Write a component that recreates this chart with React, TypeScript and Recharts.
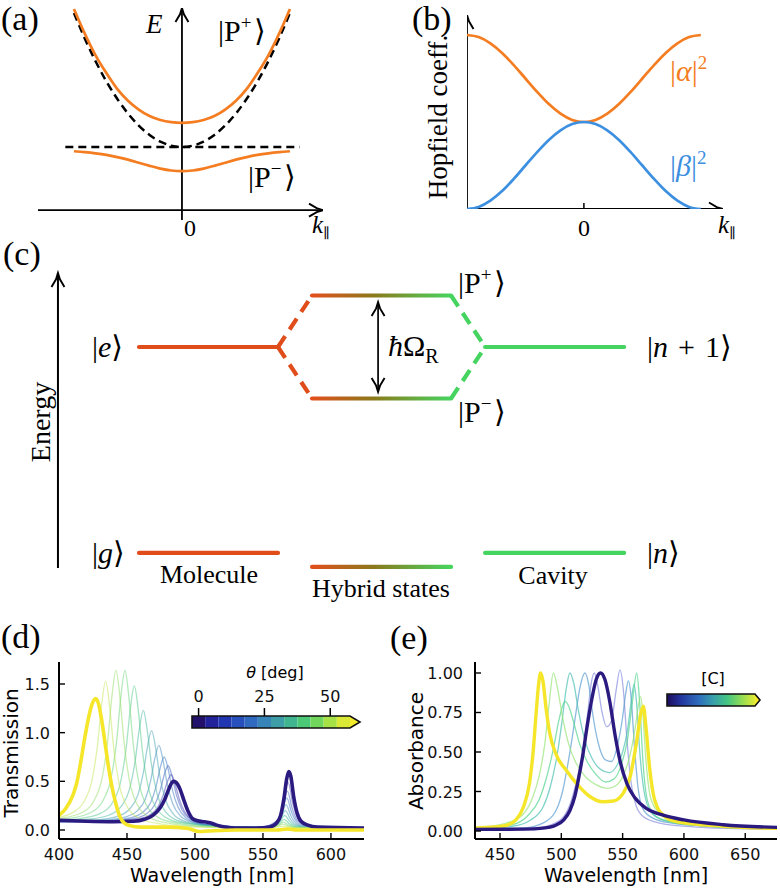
import React from "react";
import {
  LineChart,
  ComposedChart,
  Line,
  XAxis,
  YAxis,
  ReferenceArea,
} from "recharts";

const SERIF = '"Liberation Serif", "DejaVu Serif", serif';
const SANS = '"DejaVu Sans", sans-serif';
const ORANGE = "#f47d22";
const BLUE = "#3d8fe0";
const MOL = "#e04d1b";
const CAV = "#45d45f";
const TINY = 0.001;

// ---------- (a) dispersion ----------
const kPoints = [-1, -0.9, -0.8, -0.7, -0.6, -0.5, -0.4, -0.3, -0.2, -0.1, 0, 0.1, 0.2, 0.3, 0.4, 0.5, 0.6, 0.7, 0.8, 0.9, 1];
const upperBranch = [2.04, 1.79, 1.57, 1.39, 1.23, 1.11, 1.02, 0.954, 0.914, 0.892, 0.885, 0.892, 0.914, 0.954, 1.02, 1.11, 1.23, 1.39, 1.57, 1.79, 2.04];
const lowerBranch = [0.597, 0.588, 0.576, 0.56, 0.538, 0.512, 0.481, 0.449, 0.421, 0.402, 0.395, 0.402, 0.421, 0.449, 0.481, 0.512, 0.538, 0.56, 0.576, 0.588, 0.597];
const cavityBranch = [2.0, 1.742, 1.51, 1.306, 1.13, 0.98, 0.858, 0.762, 0.694, 0.654, 0.64, 0.654, 0.694, 0.762, 0.858, 0.98, 1.13, 1.306, 1.51, 1.742, 2.0];
const excitonEnergy = 0.64;
const excitonSpan = [-1.08, 1.09];
const aXDomain = [-1.333, 1.306];
const aYDomain = [-0.1, 2.05];
const A_MARGIN = { top: 8, right: 67, left: 38, bottom: 0 };
const A_W = 390;
const A_H = 250;
const A_XH = 30;

// ---------- (b) Hopfield coefficients ----------
const alphaSq = [1.0, 0.988, 0.952, 0.897, 0.827, 0.75, 0.673, 0.603, 0.548, 0.512, 0.5, 0.512, 0.548, 0.603, 0.673, 0.75, 0.827, 0.897, 0.952, 0.988, 1.0];
const betaSq = [0, 0.012, 0.048, 0.103, 0.173, 0.25, 0.327, 0.397, 0.452, 0.488, 0.5, 0.488, 0.452, 0.397, 0.327, 0.25, 0.173, 0.103, 0.048, 0.012, 0];
const bXDomain = [-1, 1.19];
const bYDomain = [0, 1.115];
const B_MARGIN = { top: 15, right: 57, left: 77, bottom: 0 };
const B_XH = 41;

// ---------- (c) level diagram ----------
const C_W = 780;
const C_H = 400;
const C_XMAX = 780 / 139;
const C_YDOM = [-0.374, 1.568];
const moleculeCol = [1, 2];
const hybridCol = [2.245, 3.245];
const cavityCol = [3.49, 4.49];
const E_g = 0;
const E_e = 1;
const E_up = 1.25;
const E_lp = 0.75;
const E_hg = -0.068;
const energyAxis = { x: 0.417, from: -0.073, to: 1.359 };
const rabiArrow = { x: 2.72, from: 0.782, to: 1.218 };
const hybridPx = hybridCol.map((u) => (u * C_W) / C_XMAX);

const diagramLines = [
  { id: "mol-e", pts: [[moleculeCol[0], E_e], [moleculeCol[1], E_e]], stroke: MOL, dashed: false },
  { id: "mol-g", pts: [[moleculeCol[0], E_g], [moleculeCol[1], E_g]], stroke: MOL, dashed: false },
  { id: "hyb-up", pts: [[hybridCol[0], E_up], [hybridCol[1], E_up]], stroke: "url(#hybridGrad)", dashed: false },
  { id: "hyb-lp", pts: [[hybridCol[0], E_lp], [hybridCol[1], E_lp]], stroke: "url(#hybridGrad)", dashed: false },
  { id: "hyb-g", pts: [[hybridCol[0], E_hg], [hybridCol[1], E_hg]], stroke: "url(#hybridGrad)", dashed: false },
  { id: "cav-n1", pts: [[cavityCol[0], E_e], [cavityCol[1], E_e]], stroke: CAV, dashed: false },
  { id: "cav-n", pts: [[cavityCol[0], E_g], [cavityCol[1], E_g]], stroke: CAV, dashed: false },
  { id: "l-up", pts: [[moleculeCol[1], E_e], [hybridCol[0], E_up]], stroke: MOL, dashed: true },
  { id: "l-lp", pts: [[moleculeCol[1], E_e], [hybridCol[0], E_lp]], stroke: MOL, dashed: true },
  { id: "r-up", pts: [[hybridCol[1], E_up], [cavityCol[0], E_e]], stroke: CAV, dashed: true },
  { id: "r-lp", pts: [[hybridCol[1], E_lp], [cavityCol[0], E_e]], stroke: CAV, dashed: true },
];

// ---------- (d) angle-resolved transmission ----------
const t00 = [[400, 0.1], [420, 0.09], [440, 0.085], [455, 0.09], [463, 0.11], [469, 0.15], [474, 0.22], [478, 0.32], [481, 0.43], [484, 0.5], [486, 0.49], [489, 0.42], [492, 0.3], [495, 0.19], [498, 0.12], [502, 0.095], [507, 0.085], [511, 0.075], [516, 0.05], [522, 0.03], [530, 0.02], [545, 0.02], [555, 0.03], [560, 0.07], [563, 0.15], [565.5, 0.33], [567.5, 0.53], [569, 0.6], [570.5, 0.55], [572.5, 0.35], [575, 0.18], [578, 0.09], [583, 0.05], [590, 0.03], [625, 0.02]];
const t05 = [[400, 0.083], [442.5, 0.094], [457.5, 0.113], [466.5, 0.154], [472.5, 0.229], [476.5, 0.351], [479.5, 0.488], [482.5, 0.57], [485.5, 0.468], [488.5, 0.316], [492.5, 0.184], [498.5, 0.099], [507.5, 0.058], [522.5, 0.039], [545, 0.025], [553, 0.04], [560.5, 0.103], [565, 0.268], [568.5, 0.49], [572, 0.268], [576, 0.112], [582, 0.053], [595, 0.028], [625, 0.02]];
const t10 = [[400, 0.084], [440.3, 0.096], [455.3, 0.118], [464.3, 0.167], [470.3, 0.256], [474.3, 0.399], [477.3, 0.563], [480.3, 0.66], [483.3, 0.543], [486.3, 0.364], [490.3, 0.211], [496.3, 0.112], [505.3, 0.063], [520.3, 0.041], [545, 0.025], [553, 0.038], [560, 0.087], [564.5, 0.22], [568, 0.4], [571.5, 0.22], [575.5, 0.094], [581.5, 0.047], [595, 0.026], [625, 0.02]];
const t15 = [[400, 0.085], [437.4, 0.098], [452.4, 0.124], [461.4, 0.179], [467.4, 0.283], [471.4, 0.448], [474.4, 0.637], [477.4, 0.75], [480.4, 0.617], [483.4, 0.413], [487.4, 0.238], [493.4, 0.124], [502.4, 0.069], [517.4, 0.043], [545, 0.025], [552.5, 0.035], [559.5, 0.075], [564, 0.184], [567.5, 0.33], [571, 0.184], [575, 0.081], [581, 0.042], [595, 0.025], [625, 0.02]];
const t20 = [[400, 0.086], [433.5, 0.101], [448.5, 0.132], [457.5, 0.196], [463.5, 0.319], [467.5, 0.513], [470.5, 0.736], [473.5, 0.87], [476.5, 0.716], [479.5, 0.478], [483.5, 0.274], [489.5, 0.141], [498.5, 0.077], [513.5, 0.046], [540, 0.026], [552, 0.032], [559, 0.062], [563.5, 0.147], [567, 0.26], [570.5, 0.147], [574.5, 0.067], [580.5, 0.037], [595, 0.024], [625, 0.02]];
const t25 = [[400, 0.089], [428.1, 0.105], [443.1, 0.141], [452.1, 0.218], [458.1, 0.363], [462.1, 0.594], [465.1, 0.859], [468.1, 1.02], [471.1, 0.839], [474.1, 0.559], [478.1, 0.318], [484.1, 0.163], [493.1, 0.086], [508.1, 0.05], [530, 0.03], [551.5, 0.03], [558.5, 0.052], [563, 0.115], [566.5, 0.2], [570, 0.115], [574, 0.055], [580, 0.033], [595, 0.023], [625, 0.02]];
const t30 = [[400, 0.093], [422, 0.111], [437, 0.154], [446, 0.248], [452, 0.425], [456, 0.707], [459, 1.032], [462, 1.23], [465, 1.012], [468, 0.672], [472, 0.38], [478, 0.193], [487, 0.099], [502, 0.056], [530, 0.03], [551, 0.028], [558, 0.043], [562.5, 0.089], [566, 0.15], [569.5, 0.089], [573.5, 0.045], [579.5, 0.029], [625, 0.02]];
const t35 = [[400, 0.1], [415.4, 0.117], [430.4, 0.17], [439.4, 0.283], [445.4, 0.5], [449.4, 0.842], [452.4, 1.238], [455.4, 1.48], [458.4, 1.218], [461.4, 0.807], [465.4, 0.455], [471.4, 0.228], [480.4, 0.115], [495.4, 0.062], [520, 0.035], [550, 0.026], [557.5, 0.036], [562, 0.068], [565.5, 0.11], [569, 0.068], [573, 0.038], [579, 0.026], [625, 0.02]];
const t40 = [[400, 0.108], [408.5, 0.121], [423.5, 0.18], [432.5, 0.306], [438.5, 0.547], [442.5, 0.929], [445.5, 1.37], [448.5, 1.64], [451.5, 1.35], [454.5, 0.894], [458.5, 0.502], [464.5, 0.251], [473.5, 0.125], [488.5, 0.066], [510, 0.035], [550, 0.025], [557, 0.031], [561.5, 0.052], [565, 0.08], [568.5, 0.052], [572.5, 0.032], [578.5, 0.024], [625, 0.02]];
const t45 = [[400, 0.117], [416.9, 0.18], [425.9, 0.306], [431.9, 0.547], [435.9, 0.929], [438.9, 1.37], [441.9, 1.64], [444.9, 1.35], [447.9, 0.894], [451.9, 0.502], [457.9, 0.251], [466.9, 0.125], [481.9, 0.066], [505, 0.035], [550, 0.024], [556.5, 0.027], [561, 0.041], [564.5, 0.06], [568, 0.041], [572, 0.028], [578, 0.023], [625, 0.02]];
const t50 = [[400, 0.131], [409.3, 0.173], [418.3, 0.29], [424.3, 0.515], [428.3, 0.869], [431.3, 1.28], [434.3, 1.53], [437.3, 1.26], [440.3, 0.834], [444.3, 0.47], [450.3, 0.235], [459.3, 0.118], [474.3, 0.063], [500, 0.03], [550, 0.022], [560.5, 0.031], [564, 0.04], [567.5, 0.031], [571.5, 0.024], [625, 0.02]];
const t55 = [[400, 0.15], [405, 0.22], [410, 0.35], [413, 0.48], [416, 0.7], [419, 0.95], [422, 1.17], [424.5, 1.3], [427, 1.35], [429, 1.3], [431.5, 1.12], [434, 0.88], [436.5, 0.64], [439, 0.44], [442, 0.26], [445, 0.13], [448, 0.07], [452, 0.045], [460, 0.03], [480, 0.03], [495, 0.015], [503, -0.015], [510, -0.01], [530, 0], [560, 0], [568, 0.01], [575, 0], [625, 0]];
const thinAngles = [t05, t10, t15, t20, t25, t30, t35, t40, t45, t50];
const thinAngleColors = ["#4a46b4", "#3d5cc0", "#3a74c2", "#3f8cbe", "#43a3b2", "#48b8a0", "#52c98a", "#6cd576", "#95de66", "#c4e658"];
const angleBinEdges = [-2.5, 2.5, 7.5, 12.5, 17.5, 22.5, 27.5, 32.5, 37.5, 42.5, 47.5, 52.5, 57.5];
const angleBinColors = ["#22106a", "#22229a", "#2137b2", "#2850bd", "#2f69c0", "#3784b8", "#3d9ea7", "#40b590", "#4bc977", "#70d65c", "#a6e146", "#d9e936"];
const angleExtendEdge = 61.3;
const angleTicks = [0, 25, 50];
const dXDomain = [400, 624.3];
const dYDomain = [-0.0925, 1.726];
const dXTicks = [400, 450, 500, 550, 600];
const dYTicks = [0, 0.5, 1, 1.5];

// ---------- (e) concentration-dependent absorbance ----------
const a0 = [[430, 0.01], [470, 0.012], [485, 0.018], [495, 0.035], [502, 0.07], [507, 0.13], [511, 0.22], [514, 0.33], [517.5, 0.48], [521, 0.66], [525, 0.84], [528.5, 0.96], [532, 1.0], [535.5, 0.96], [539.5, 0.82], [544, 0.6], [548, 0.44], [553.5, 0.3], [560, 0.21], [570, 0.14], [583, 0.1], [600, 0.07], [632, 0.04], [676, 0.023]];
const a1 = [[430, 0.01], [480, 0.02], [495, 0.05], [505, 0.13], [512, 0.3], [518, 0.52], [522, 0.78], [524.5, 0.94], [526.9, 1.0], [529.5, 0.93], [533, 0.76], [537, 0.66], [541, 0.7], [544.5, 0.88], [547.9, 1.02], [550.5, 0.9], [553.5, 0.58], [557, 0.3], [561, 0.16], [567, 0.09], [580, 0.05], [610, 0.025], [676, 0.01]];
const a2 = [[430, 0.01], [470, 0.02], [485, 0.05], [495, 0.12], [501, 0.25], [507, 0.5], [511, 0.7], [515, 0.9], [519.3, 1.0], [522.5, 0.92], [526, 0.72], [530, 0.56], [536, 0.45], [541, 0.44], [546, 0.55], [550, 0.72], [552.5, 0.87], [554.7, 0.95], [557, 0.84], [559.5, 0.55], [562.5, 0.28], [566.5, 0.14], [575, 0.08], [590, 0.05], [620, 0.03], [676, 0.015]];
const a3 = [[430, 0.015], [460, 0.03], [475, 0.07], [485, 0.15], [491, 0.28], [497, 0.5], [501, 0.72], [504, 0.9], [507, 1.0], [510, 0.94], [514, 0.76], [519, 0.58], [525, 0.46], [532, 0.39], [539, 0.37], [545, 0.41], [550, 0.5], [554, 0.64], [557, 0.82], [559.3, 0.93], [561.5, 0.8], [564, 0.5], [567.5, 0.25], [573, 0.12], [583, 0.07], [620, 0.03], [676, 0.015]];
const a4 = [[430, 0.015], [460, 0.04], [473, 0.1], [482, 0.2], [488, 0.34], [493.5, 0.52], [498, 0.7], [501, 0.79], [503, 0.82], [506, 0.79], [510, 0.69], [515, 0.55], [521, 0.44], [528, 0.36], [536, 0.31], [543, 0.33], [549, 0.42], [554, 0.58], [558, 0.82], [561.5, 1.0], [564, 0.8], [566.5, 0.45], [570, 0.2], [576, 0.1], [590, 0.055], [620, 0.03], [676, 0.015]];
const a5 = [[430, 0.02], [455, 0.05], [468, 0.1], [476, 0.2], [482, 0.35], [486.5, 0.55], [490, 0.8], [493.5, 1.0], [497, 0.9], [501, 0.72], [506, 0.55], [512, 0.43], [520, 0.34], [529, 0.29], [538, 0.27], [545, 0.29], [551, 0.36], [556, 0.48], [560, 0.64], [563, 0.8], [564.7, 0.85], [566.5, 0.74], [569, 0.45], [572.5, 0.22], [578, 0.13], [590, 0.08], [620, 0.04], [676, 0.02]];
const a6 = [[430, 0.02], [445, 0.025], [455, 0.035], [463, 0.07], [469, 0.15], [474, 0.3], [477, 0.5], [479.5, 0.75], [481.5, 0.93], [483.1, 1.0], [485, 0.95], [487.5, 0.78], [490.5, 0.62], [496, 0.48], [504, 0.385], [512.5, 0.3], [523, 0.22], [534, 0.185], [542.5, 0.19], [550.5, 0.24], [556, 0.34], [561.5, 0.57], [565, 0.75], [566.9, 0.79], [569, 0.66], [572, 0.4], [576, 0.2], [583, 0.1], [594, 0.06], [632, 0.03], [676, 0.017]];
const thinConc = [a1, a2, a3, a4, a5];
const thinConcColors = ["#8a8ee0", "#5a9cd0", "#4cc0b4", "#52d48e", "#98e479"];
const eXDomain = [429.6, 675.9];
const eYDomain = [-0.0506, 1.0696];
const eXTicks = [450, 500, 550, 600, 650];
const eYTicks = [0, 0.25, 0.5, 0.75, 1];
const concBarExtent = [0, 1.057];
const concBarEnd = 1;

const toXY = (pts: number[][]) => pts.map(([x, y]) => ({ x, y }));

// pixels per data unit of a chart's plot area
const pxScale = (w: number, h: number, m: any, xAxisH: number, xd: number[], yd: number[]) => ({
  sx: (w - m.left - m.right) / (xd[1] - xd[0]),
  sy: (h - m.top - m.bottom - xAxisH) / (yd[1] - yd[0]),
});

// arrow head as a 3-point polyline in data units (14 px long, 6.5 px half width)
const arrowHead = (key: string, tx: number, ty: number, dir: string, s: { sx: number; sy: number }) => {
  const L = 14;
  const W = 6.5;
  let pts: number[][];
  if (dir === "right") pts = [[tx - L / s.sx, ty + W / s.sy], [tx - (L * 0.45) / s.sx, ty + (W * 0.3) / s.sy], [tx, ty], [tx - (L * 0.45) / s.sx, ty - (W * 0.3) / s.sy], [tx - L / s.sx, ty - W / s.sy]];
  else if (dir === "up") pts = [[tx - W / s.sx, ty - L / s.sy], [tx - (W * 0.3) / s.sx, ty - (L * 0.45) / s.sy], [tx, ty], [tx + (W * 0.3) / s.sx, ty - (L * 0.45) / s.sy], [tx + W / s.sx, ty - L / s.sy]];
  else pts = [[tx - W / s.sx, ty + L / s.sy], [tx - (W * 0.3) / s.sx, ty + (L * 0.45) / s.sy], [tx, ty], [tx + (W * 0.3) / s.sx, ty + (L * 0.45) / s.sy], [tx + W / s.sx, ty + L / s.sy]];
  return pts.map(([x, y]) => ({ [key]: x, y }));
};

// ---------- tick renderers ----------
const ZeroTickA = (props: any) => (
  <text x={props.x + 8} y={props.y + 16} textAnchor="middle" fontFamily={SERIF} fontSize={24} fill="#000">
    {props.payload.value}
  </text>
);

const ZeroTickB = (props: any) => (
  <g>
    <line x1={props.x} x2={props.x} y1={props.y} y2={props.y - 6} stroke="#000" strokeWidth={1.5} />
    <text x={props.x} y={props.y + 27} textAnchor="middle" fontFamily={SERIF} fontSize={24} fill="#000">
      {props.payload.value}
    </text>
  </g>
);

const bottomTick = (props: any) => {
  const { x, y, payload } = props;
  return (
    <g>
      <line x1={x} x2={x} y1={y} y2={y - 6} stroke="#000" strokeWidth={1.4} />
      <text x={x} y={y + 21} textAnchor="middle" fontFamily={SANS} fontSize={16} fill="#111">
        {payload.value}
      </text>
    </g>
  );
};

const makeLeftTick = (digits: number, gap: number) => (props: any) => {
  const { x, y, payload } = props;
  return (
    <g>
      <line x1={x} x2={x + 6} y1={y} y2={y} stroke="#000" strokeWidth={1.4} />
      <text x={x - gap} y={y + 6} textAnchor="end" fontFamily={SANS} fontSize={16} fill="#111">
        {Number(payload.value).toFixed(digits)}
      </text>
    </g>
  );
};

const angleBarOutline = (p: any) => {
  const { x, y, width, height } = p;
  const span = angleExtendEdge - angleBinEdges[0];
  const xe = x + (width * (angleBinEdges[angleBinEdges.length - 1] - angleBinEdges[0])) / span;
  return (
    <g>
      <polygon points={`${xe},${y} ${x + width},${y + height / 2} ${xe},${y + height}`} fill="#f3ec2c" />
      <polygon
        points={`${x},${y} ${xe},${y} ${x + width},${y + height / 2} ${xe},${y + height} ${x},${y + height}`}
        fill="none"
        stroke="#111"
        strokeWidth={1.6}
      />
    </g>
  );
};

const concBarShape = (p: any) => {
  const { x, y, width, height } = p;
  const xe = x + (width * (concBarEnd - concBarExtent[0])) / (concBarExtent[1] - concBarExtent[0]);
  return (
    <polygon
      points={`${x},${y} ${xe},${y} ${x + width},${y + height / 2} ${xe},${y + height} ${x},${y + height}`}
      fill="url(#concGrad)"
      stroke="#111"
      strokeWidth={1.6}
    />
  );
};

const Ket = ({ x, y, children, size = 30, fill = "#000" }: any) => (
  <text x={x} y={y} fontFamily={SERIF} fontSize={size} fill={fill}>
    {children}
  </text>
);

const Sup = ({ children }: any) => (
  <>
    <tspan dy={-12} fontSize={19}>{children}</tspan>
    <tspan dy={12}>{"\u200a"}</tspan>
  </>
);

const pos = (left: number, top: number): React.CSSProperties => ({ position: "absolute", left, top });

const lineBase = { dot: false, activeDot: false, isAnimationActive: false } as const;

export default function App() {
  const dispersion = kPoints.map((k, i) => ({ k, up: upperBranch[i], lp: lowerBranch[i], cav: cavityBranch[i] }));
  const hopfield = kPoints.map((k, i) => ({ k, a: alphaSq[i], b: betaSq[i] }));
  const excitonLine = excitonSpan.map((k) => ({ k, y: excitonEnergy }));

  const sA = pxScale(A_W, A_H, A_MARGIN, A_XH, aXDomain, aYDomain);
  const sB = pxScale(390, 250, B_MARGIN, B_XH, bXDomain, bYDomain);
  const sC = pxScale(C_W, C_H, { top: 0, right: 0, left: 0, bottom: 0 }, 0, [0, C_XMAX], C_YDOM);

  const aAxisX = [{ k: aXDomain[0], y: 0 }, { k: aXDomain[1], y: 0 }];
  const aAxisY = [{ k: 0, y: aYDomain[0] }, { k: 0, y: aYDomain[1] }];
  const bAxisX = [{ k: bXDomain[0], y: 0 }, { k: bXDomain[1], y: 0 }];
  const bAxisY = [{ k: bXDomain[0], y: 0 }, { k: bXDomain[0], y: bYDomain[1] }];
  const energyPts = [{ x: energyAxis.x, y: energyAxis.from }, { x: energyAxis.x, y: energyAxis.to }];
  const rabiPts = [{ x: rabiArrow.x, y: rabiArrow.from }, { x: rabiArrow.x, y: rabiArrow.to }];

  const heads = {
    aX: arrowHead("k", aXDomain[1], 0, "right", sA),
    aY: arrowHead("k", 0, aYDomain[1], "up", sA),
    bX: arrowHead("k", bXDomain[1], 0, "right", sB),
    bY: arrowHead("k", bXDomain[0], bYDomain[1], "up", sB),
    cE: arrowHead("x", energyAxis.x, energyAxis.to, "up", sC),
    cRu: arrowHead("x", rabiArrow.x, rabiArrow.to, "up", sC),
    cRd: arrowHead("x", rabiArrow.x, rabiArrow.from, "down", sC),
  };

  const head = (data: any[]) => (
    <Line data={data} dataKey="y" type="linear" stroke="#000" strokeWidth={1.9} strokeLinejoin="miter" dot={false} activeDot={false} isAnimationActive={false} />
  );

  return (
    <div style={{ position: "absolute", left: 0, top: 0, width: 780, height: 889, background: "#fff", overflow: "hidden" }}>
      <svg width={0} height={0} style={{ position: "absolute" }}>
        <defs>
          <linearGradient id="hybridGrad" gradientUnits="userSpaceOnUse" x1={hybridPx[0]} x2={hybridPx[1]} y1={0} y2={0}>
            <stop offset="0" stopColor="#e24f1c" />
            <stop offset="0.45" stopColor="#8a7a1c" />
            <stop offset="1" stopColor="#46d45f" />
          </linearGradient>
          <linearGradient id="concGrad" x1="0" x2="1" y1="0" y2="0">
            <stop offset="0" stopColor="#1b0c5c" />
            <stop offset="0.15" stopColor="#23359f" />
            <stop offset="0.35" stopColor="#2f70bd" />
            <stop offset="0.5" stopColor="#38a0aa" />
            <stop offset="0.65" stopColor="#45c583" />
            <stop offset="0.8" stopColor="#8fdc55" />
            <stop offset="0.946" stopColor="#e2ea35" />
            <stop offset="0.946" stopColor="#f3ec2a" />
            <stop offset="1" stopColor="#f3ec2a" />
          </linearGradient>
        </defs>
      </svg>

      {/* (a) */}
      <div style={pos(0, 0)}>
        <LineChart width={A_W} height={A_H} data={dispersion} margin={A_MARGIN}>
          <XAxis dataKey="k" type="number" domain={aXDomain} allowDataOverflow ticks={[0]} tick={ZeroTickA} axisLine={false} tickLine={false} tickSize={TINY} tickMargin={TINY} height={A_XH} />
          <YAxis type="number" domain={aYDomain} allowDataOverflow hide />
          <Line data={aAxisX} dataKey="y" type="linear" stroke="#000" strokeWidth={1.8} {...lineBase} />
          <Line data={aAxisY} dataKey="y" type="linear" stroke="#000" strokeWidth={1.8} {...lineBase} />
          {head(heads.aX)}
          {head(heads.aY)}
          <Line data={excitonLine} dataKey="y" type="linear" stroke="#000" strokeWidth={2.5} strokeDasharray="8 5" {...lineBase} />
          <Line dataKey="cav" type="monotone" stroke="#000" strokeWidth={2.5} strokeDasharray="8 5" {...lineBase} />
          <Line dataKey="up" type="monotone" stroke={ORANGE} strokeWidth={2.7} {...lineBase} />
          <Line dataKey="lp" type="monotone" stroke={ORANGE} strokeWidth={2.7} {...lineBase} />
        </LineChart>
      </div>

      {/* (b) */}
      <div style={pos(390, 0)}>
        <LineChart width={390} height={250} data={hopfield} margin={B_MARGIN}>
          <XAxis dataKey="k" type="number" domain={bXDomain} allowDataOverflow ticks={[0]} tick={ZeroTickB} axisLine={false} tickLine={false} tickSize={TINY} tickMargin={TINY} height={B_XH} />
          <YAxis type="number" domain={bYDomain} allowDataOverflow hide />
          <Line data={bAxisX} dataKey="y" type="linear" stroke="#000" strokeWidth={1.8} {...lineBase} />
          <Line data={bAxisY} dataKey="y" type="linear" stroke="#000" strokeWidth={1.8} {...lineBase} />
          {head(heads.bX)}
          {head(heads.bY)}
          <Line dataKey="a" type="monotone" stroke={ORANGE} strokeWidth={2.7} {...lineBase} />
          <Line dataKey="b" type="monotone" stroke={BLUE} strokeWidth={2.7} {...lineBase} />
        </LineChart>
      </div>

      {/* (c) */}
      <div style={pos(0, 230)}>
        <ComposedChart width={C_W} height={C_H} margin={{ top: 0, right: 0, left: 0, bottom: 0 }}>
          <XAxis dataKey="x" type="number" domain={[0, C_XMAX]} allowDataOverflow hide />
          <YAxis type="number" domain={C_YDOM} allowDataOverflow hide />
          {diagramLines.map((l) => (
            <Line
              key={l.id}
              data={toXY(l.pts)}
              dataKey="y"
              type="linear"
              stroke={l.stroke}
              strokeWidth={4.2}
              strokeDasharray={l.dashed ? "13 8" : undefined}
              strokeLinecap={l.dashed ? "butt" : "round"}
              {...lineBase}
            />
          ))}
          <Line data={energyPts} dataKey="y" type="linear" stroke="#000" strokeWidth={2} {...lineBase} />
          {head(heads.cE)}
          <Line data={rabiPts} dataKey="y" type="linear" stroke="#000" strokeWidth={1.7} {...lineBase} />
          {head(heads.cRu)}
          {head(heads.cRd)}
        </ComposedChart>
      </div>

      {/* (d) */}
      <div style={pos(0, 630)}>
        <LineChart width={390} height={259} margin={{ top: 32, right: 26, left: 0, bottom: 0 }}>
          <XAxis dataKey="x" type="number" domain={dXDomain} allowDataOverflow ticks={dXTicks} tick={bottomTick} tickLine={false} tickSize={TINY} tickMargin={TINY} height={50} axisLine={{ stroke: "#000", strokeWidth: 2 }} />
          <YAxis type="number" domain={dYDomain} allowDataOverflow ticks={dYTicks} tick={makeLeftTick(1, 9)} tickLine={false} tickSize={TINY} tickMargin={TINY} width={59} axisLine={{ stroke: "#000", strokeWidth: 2 }} />
          {thinAngles.map((s, i) => (
            <Line key={`t${i}`} data={toXY(s)} dataKey="y" type="monotone" stroke={thinAngleColors[i]} strokeOpacity={0.5} strokeWidth={1.3} {...lineBase} />
          ))}
          <Line data={toXY(t00)} dataKey="y" type="monotone" stroke="#2b1a80" strokeWidth={3.6} {...lineBase} />
          <Line data={toXY(t55)} dataKey="y" type="monotone" stroke="#f5e62a" strokeWidth={3.6} {...lineBase} />
        </LineChart>
      </div>
      <div style={pos(0, 630)}>
        <ComposedChart width={390} height={110} data={angleTicks.map((x) => ({ x }))} margin={{ top: 66, right: 30, left: 192, bottom: 12 }}>
          <XAxis dataKey="x" orientation="top" type="number" domain={[angleBinEdges[0], angleExtendEdge]} allowDataOverflow ticks={angleTicks} height={20} tickSize={8} tickMargin={6} axisLine={false} tickLine={{ stroke: "#000", strokeWidth: 1.5 }} tick={{ fontFamily: SANS, fontSize: 16, fill: "#111" }} />
          <YAxis type="number" domain={[0, 1]} allowDataOverflow hide />
          {angleBinColors.map((c, i) => (
            <ReferenceArea key={`bin${i}`} x1={angleBinEdges[i]} x2={angleBinEdges[i + 1]} y1={0} y2={1} fill={c} fillOpacity={1} stroke="none" ifOverflow="visible" />
          ))}
          <ReferenceArea x1={angleBinEdges[0]} x2={angleExtendEdge} y1={0} y2={1} shape={angleBarOutline} ifOverflow="visible" />
        </ComposedChart>
      </div>

      {/* (e) */}
      <div style={pos(390, 630)}>
        <LineChart width={390} height={259} margin={{ top: 32, right: 3, left: 0, bottom: 0 }}>
          <XAxis dataKey="x" type="number" domain={eXDomain} allowDataOverflow ticks={eXTicks} tick={bottomTick} tickLine={false} tickSize={TINY} tickMargin={TINY} height={50} axisLine={{ stroke: "#000", strokeWidth: 2 }} />
          <YAxis type="number" domain={eYDomain} allowDataOverflow ticks={eYTicks} tick={makeLeftTick(2, 12)} tickLine={false} tickSize={TINY} tickMargin={TINY} width={85} axisLine={{ stroke: "#000", strokeWidth: 2 }} />
          {thinConc.map((s, i) => (
            <Line key={`a${i}`} data={toXY(s)} dataKey="y" type="monotone" stroke={thinConcColors[i]} strokeOpacity={0.7} strokeWidth={1.3} {...lineBase} />
          ))}
          <Line data={toXY(a6)} dataKey="y" type="monotone" stroke="#f5e62a" strokeWidth={3.4} {...lineBase} />
          <Line data={toXY(a0)} dataKey="y" type="monotone" stroke="#2b1a80" strokeWidth={3.4} {...lineBase} />
        </LineChart>
      </div>
      <div style={pos(390, 630)}>
        <ComposedChart width={390} height={90} data={concBarExtent.map((x) => ({ x }))} margin={{ top: 64, right: 20, left: 277, bottom: 14 }}>
          <XAxis dataKey="x" type="number" domain={concBarExtent} allowDataOverflow hide />
          <YAxis type="number" domain={[0, 1]} allowDataOverflow hide />
          <ReferenceArea x1={concBarExtent[0]} x2={concBarExtent[1]} y1={0} y2={1} shape={concBarShape} ifOverflow="visible" />
        </ComposedChart>
      </div>

      {/* text layer */}
      <svg width={780} height={889} style={{ position: "absolute", left: 0, top: 0, pointerEvents: "none" }}>
        {/* (a) */}
        <text x={1} y={30} fontFamily={SERIF} fontSize={34}>(a)</text>
        <text x={146} y={33} fontFamily={SERIF} fontSize={27} fontStyle="italic">E</text>
        <Ket x={218} y={41}>|P<Sup>+</Sup>⟩</Ket>
        <Ket x={248} y={187}>|P<Sup>−</Sup>⟩</Ket>
        <text x={312} y={233} fontFamily={SERIF} fontSize={25}><tspan fontStyle="italic">k</tspan><tspan dy={5} fontSize={14}>∥</tspan></text>
        {/* (b) */}
        <text x={412} y={30} fontFamily={SERIF} fontSize={34}>(b)</text>
        <text transform="translate(447,117) rotate(-90)" textAnchor="middle" fontFamily={SERIF} fontSize={27}>Hopfield coeff.</text>
        <Ket x={670} y={81} fill={ORANGE}>|<tspan fontStyle="italic">α</tspan>|<Sup>2</Sup></Ket>
        <Ket x={670} y={176} fill={BLUE}>|<tspan fontStyle="italic">β</tspan>|<Sup>2</Sup></Ket>
        <text x={718} y={233} fontFamily={SERIF} fontSize={25}><tspan fontStyle="italic">k</tspan><tspan dy={5} fontSize={14}>∥</tspan></text>
        {/* (c) */}
        <text x={3} y={265} fontFamily={SERIF} fontSize={34}>(c)</text>
        <text transform="translate(50,422) rotate(-90)" textAnchor="middle" fontFamily={SERIF} fontSize={28}>Energy</text>
        <Ket x={92} y={357}>|<tspan fontStyle="italic">e</tspan>⟩</Ket>
        <Ket x={92} y={563}>|<tspan fontStyle="italic">g</tspan>⟩</Ket>
        <Ket x={458} y={293}>|P<Sup>+</Sup>⟩</Ket>
        <Ket x={458} y={422}>|P<Sup>−</Sup>⟩</Ket>
        <Ket x={647} y={357}>|<tspan fontStyle="italic">n</tspan>{"\u2004+\u20041"}⟩</Ket>
        <Ket x={647} y={563}>|<tspan fontStyle="italic">n</tspan>⟩</Ket>
        <Ket x={388} y={356}><tspan fontStyle="italic">ħ</tspan>Ω<tspan dy={7} fontSize={20}>R</tspan></Ket>
        <text x={209} y={583} textAnchor="middle" fontFamily={SERIF} fontSize={26}>Molecule</text>
        <text x={381} y={597} textAnchor="middle" fontFamily={SERIF} fontSize={26}>Hybrid states</text>
        <text x={553} y={584} textAnchor="middle" fontFamily={SERIF} fontSize={26}>Cavity</text>
        {/* (d) */}
        <text x={1} y={648} fontFamily={SERIF} fontSize={34}>(d)</text>
        <text transform="translate(18,753) rotate(-90)" textAnchor="middle" fontFamily={SANS} fontSize={20}>Transmission</text>
        <text x={212} y={881.5} textAnchor="middle" fontFamily={SANS} fontSize={19}>Wavelength [nm]</text>
        <text x={275} y={678} textAnchor="middle" fontFamily={SANS} fontSize={16}><tspan fontStyle="italic">θ</tspan> [deg]</text>
        {/* (e) */}
        <text x={390} y={649} fontFamily={SERIF} fontSize={34}>(e)</text>
        <text transform="translate(423,751) rotate(-90)" textAnchor="middle" fontFamily={SANS} fontSize={20}>Absorbance</text>
        <text x={626} y={881.5} textAnchor="middle" fontFamily={SANS} fontSize={19}>Wavelength [nm]</text>
        <text x={713} y={684} textAnchor="middle" fontFamily={SANS} fontSize={16}>[C]</text>
      </svg>
    </div>
  );
}
